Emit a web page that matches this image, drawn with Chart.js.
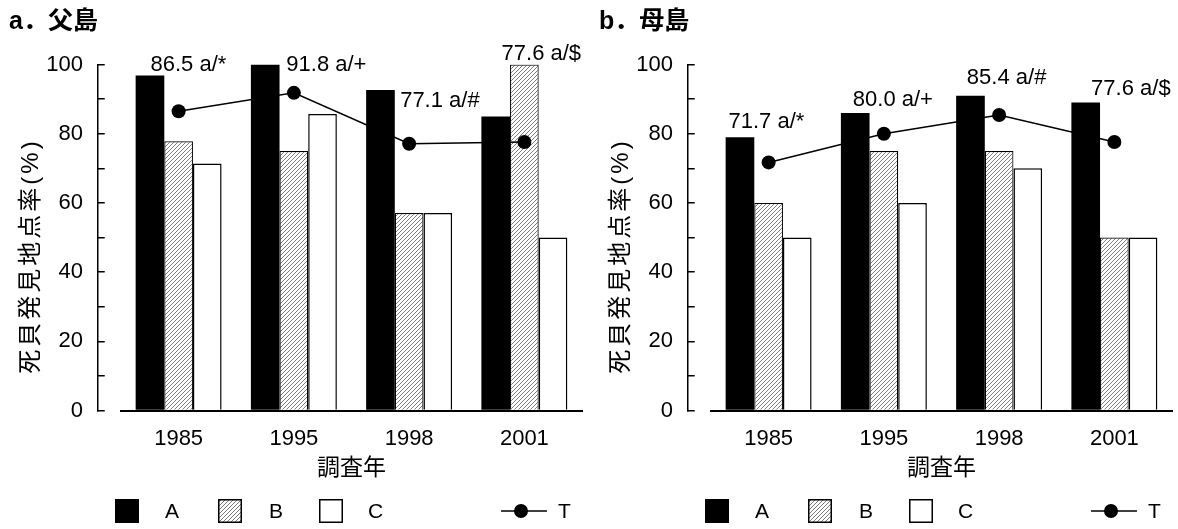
<!DOCTYPE html>
<html><head><meta charset="utf-8">
<script src="https://cdn.jsdelivr.net/npm/chart.js@4.4.1/dist/chart.umd.min.js"></script>
<style>
html,body{margin:0;padding:0;background:#fff;overflow:hidden;width:1178px;height:529px;}
.panel{position:absolute;top:0;width:589px;height:529px;}
.panel canvas.main{position:absolute;left:0;top:0;}
.legend{position:absolute;left:0;top:0;width:589px;height:529px;pointer-events:none;font-family:"Liberation Sans",Arial,sans-serif;font-size:21px;color:#000;}
.legend span{position:absolute;height:24px;line-height:24px;white-space:nowrap;}
</style></head><body>
<div class="panel" style="left:0"><canvas class="main" id="c1" width="589" height="529"></canvas><div class="legend" id="l1"></div></div>
<div class="panel" style="left:590px"><canvas class="main" id="c2" width="589" height="529"></canvas><div class="legend" id="l2"></div></div>
<script>
// ---------- data ----------
const years = ['1985', '1995', '1998', '2001'];
const seriesNames = ['A', 'B', 'C', 'T'];
const yTickValues = [0, 20, 40, 60, 80, 100];

const chichiTitle = 'a．父島';
const chichiA = [96.8, 100, 92.6, 85];
const chichiB = [77.8, 75, 57.1, 100];
const chichiC = [71.4, 85.7, 57.1, 50];
const chichiT = [86.5, 91.8, 77.1, 77.6];
const chichiMarks = ['a/*', 'a/+', 'a/#', 'a/$'];

const hahaTitle = 'b．母島';
const hahaA = [79, 86, 91, 89];
const hahaB = [60, 75, 75, 50];
const hahaC = [50, 60, 70, 50];
const hahaT = [71.7, 80.0, 85.4, 77.6];
const hahaMarks = ['a/*', 'a/+', 'a/#', 'a/$'];

const xTitle = '調査年';
const yTitle = '死貝発見地点率(%)';

// ---------- label anchors (category position, value) ----------
const chichiNotePos = [[0.085, 99.9], [1.282, 99.9], [2.267, 89.5], [3.147, 103]];
const hahaNotePos = [[-0.019, 83.5], [1.078, 89.9], [2.065, 96.2], [3.143, 92.9]];

// ---------- style ----------
const FONT_LATIN = '"Liberation Sans", Arial, sans-serif';
const FONT_MIX = '"Liberation Sans", "Noto Sans CJK JP", sans-serif';
const AXIS_GAP = 23.3;
const YTITLE_SHIFT = 18.5;
const LEGEND_Y = 511;
const legendSwatchX = [115, 218, 319, 501];
const legendTextX = [165, 269, 368, 558];

function makeHatch(ctx) {
  const c = document.createElement('canvas');
  c.width = 4; c.height = 4;
  const g = c.getContext('2d');
  g.fillStyle = '#fff'; g.fillRect(0, 0, 4, 4);
  g.strokeStyle = '#444'; g.lineWidth = 0.7;
  g.beginPath();
  g.moveTo(-1, 5); g.lineTo(5, -1);
  g.moveTo(-1, 1); g.lineTo(1, -1);
  g.moveTo(3, 5); g.lineTo(5, 3);
  g.stroke();
  return ctx.createPattern(c, 'repeat');
}

const axisGapPlugin = {
  id: 'axisGap',
  afterLayout(chart) {
    const y = chart.scales.y;
    y.right = chart.chartArea.left - AXIS_GAP;
    if (!y.__wrapped) {
      const orig = y.drawTitle;
      y.drawTitle = function () {
        const c = this.ctx;
        const prevLS = c.letterSpacing;
        c.letterSpacing = '3px';
        this.top += YTITLE_SHIFT; this.bottom += YTITLE_SHIFT;
        orig.call(this);
        this.top -= YTITLE_SHIFT; this.bottom -= YTITLE_SHIFT;
        c.letterSpacing = prevLS || '0px';
      };
      y.__wrapped = true;
    }
  }
};

function notesPlugin(values, marks, pos) {
  return {
    id: 'notes',
    afterDatasetsDraw(chart) {
      const {ctx, scales: {x, y}} = chart;
      ctx.save();
      ctx.font = '22px ' + FONT_LATIN;
      ctx.fillStyle = '#000';
      ctx.textAlign = 'center';
      ctx.textBaseline = 'middle';
      values.forEach((v, i) => {
        ctx.fillText(v.toFixed(1) + ' ' + marks[i], x.getPixelForValue(pos[i][0]), y.getPixelForValue(pos[i][1]));
      });
      ctx.restore();
    }
  };
}

function buildLegend(el, chart) {
  chart.data.datasets.forEach((ds, i) => {
    const sw = document.createElement('canvas');
    const isLine = ds.type === 'line';
    const w = isLine ? 46 : 24, h = isLine ? 16 : 24;
    sw.width = w; sw.height = h;
    sw.style.cssText = 'position:absolute;left:' + legendSwatchX[i] + 'px;top:' + (LEGEND_Y - h / 2) + 'px';
    const g = sw.getContext('2d');
    if (isLine) {
      g.strokeStyle = ds.borderColor; g.lineWidth = ds.borderWidth;
      g.beginPath(); g.moveTo(0, h / 2); g.lineTo(w, h / 2); g.stroke();
      g.fillStyle = ds.pointBackgroundColor;
      g.beginPath(); g.arc(20, h / 2, ds.pointRadius, 0, Math.PI * 2); g.fill();
    } else {
      g.fillStyle = ds.backgroundColor; g.fillRect(0, 0, w, h);
      g.strokeStyle = '#000'; g.lineWidth = 1.5; g.strokeRect(0.75, 0.75, w - 1.5, h - 1.5);
    }
    el.appendChild(sw);
    const t = document.createElement('span');
    t.textContent = ds.label;
    t.style.left = legendTextX[i] + 'px';
    t.style.top = (LEGEND_Y - 12) + 'px';
    el.appendChild(t);
  });
}

function makeChart(canvasId, legendId, title, A, B, C, T, marks, notePos) {
  const canvas = document.getElementById(canvasId);
  const ctx = canvas.getContext('2d');
  const hatch = makeHatch(ctx);
  const chart = new Chart(ctx, {
    type: 'bar',
    data: {
      labels: years,
      datasets: [
        {label: seriesNames[0], data: A, backgroundColor: '#000', borderColor: '#000', borderWidth: 0, order: 1},
        {label: seriesNames[1], data: B, backgroundColor: hatch, borderColor: '#000', borderWidth: 1.2, order: 1},
        {label: seriesNames[2], data: C, backgroundColor: '#fff', borderColor: '#000', borderWidth: 1.5, order: 1},
        {label: seriesNames[3], type: 'line', data: T, borderColor: '#000', borderWidth: 1.5,
         pointRadius: 7, pointBackgroundColor: '#000', pointBorderWidth: 0, pointHoverRadius: 7,
         tension: 0, fill: false, order: 0}
      ]
    },
    options: {
      responsive: false,
      animation: false,
      events: [],
      datasets: {bar: {categoryPercentage: 0.746, barPercentage: 1.0}},
      layout: {padding: {left: 9, right: 6.5, top: 0, bottom: 38.5}},
      plugins: {
        legend: {display: false},
        tooltip: {enabled: false},
        title: {
          display: true, text: title, align: 'start', color: '#000',
          font: {family: FONT_MIX, size: 25, weight: 'bold'},
          padding: {top: 7, bottom: 27.5}
        }
      },
      scales: {
        x: {
          type: 'category',
          offset: true,
          grid: {display: false},
          border: {display: true, color: '#000', width: 2, z: 1},
          ticks: {color: '#000', font: {family: FONT_LATIN, size: 22}, padding: 7.5, maxRotation: 0},
          title: {display: true, text: xTitle, color: '#000', font: {family: FONT_MIX, size: 23}, padding: {top: 0, bottom: 7.7}},
          afterFit(s) { s.height = 80; }
        },
        y: {
          min: 0, max: 100,
          ticks: {
            stepSize: 10, color: '#000', font: {family: FONT_LATIN, size: 22}, padding: 21.7,
            callback: (v) => yTickValues.includes(v) ? String(v) : ''
          },
          grid: {display: true, drawOnChartArea: false, drawTicks: true, tickLength: -7, color: '#000', lineWidth: 1.5},
          border: {display: true, color: '#000', width: 1.5},
          title: {display: true, text: yTitle, color: '#000', font: {family: FONT_MIX, size: 24}, padding: {top: 8, bottom: 0}},
          afterFit(s) { s.width = 112; }
        }
      }
    },
    plugins: [axisGapPlugin, notesPlugin(T, marks, notePos)]
  });
  buildLegend(document.getElementById(legendId), chart);
  return chart;
}

makeChart('c1', 'l1', chichiTitle, chichiA, chichiB, chichiC, chichiT, chichiMarks, chichiNotePos);
makeChart('c2', 'l2', hahaTitle, hahaA, hahaB, hahaC, hahaT, hahaMarks, hahaNotePos);
</script>
</body></html>
